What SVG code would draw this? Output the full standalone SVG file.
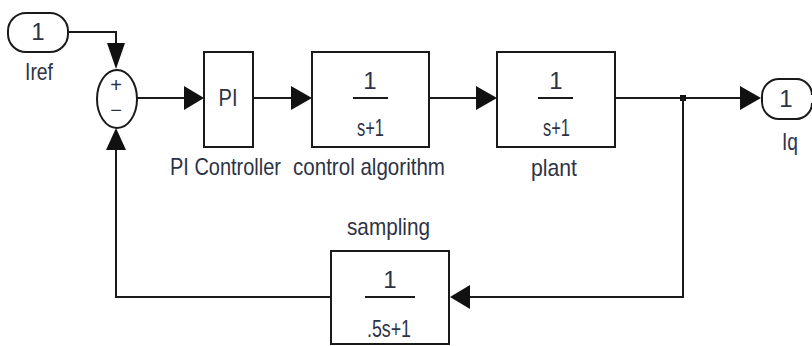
<svg xmlns="http://www.w3.org/2000/svg" width="812" height="346" viewBox="0 0 812 346">
<defs>
<style>
.blk{fill:#fff;stroke:#1a1a1a;stroke-width:2}
.ln{fill:none;stroke:#1a1a1a;stroke-width:2}
.t{font-family:"Liberation Sans",Arial,sans-serif;font-size:24px;fill:#2d3345}
.c{text-anchor:middle}
.ah{fill:#111}
</style>
</defs>
<rect width="812" height="346" fill="#fff"/>
<g id="connectors">
<polyline class="ln" points="68,32 116,32 116,50"/>
<polygon class="ah" points="107,43 125,43 116,69"/>
<line class="ln" x1="137" y1="98" x2="186" y2="98"/>
<polygon class="ah" points="184,86 184,110 204,98"/>
<line class="ln" x1="253" y1="98" x2="292" y2="98"/>
<polygon class="ah" points="291,86 291,110 312,98"/>
<line class="ln" x1="429" y1="98" x2="478" y2="98"/>
<polygon class="ah" points="476,86 476,110 497,98"/>
<line class="ln" x1="615" y1="98" x2="742" y2="98"/>
<polygon class="ah" points="740,86 740,110 761,98"/>
<rect x="680" y="95" width="6" height="6" fill="#111"/>
<polyline class="ln" points="683,98 683,297 468,297"/>
<polygon class="ah" points="470,285 470,309 450,297"/>
<polyline class="ln" points="331,297 116,297 116,148"/>
<polygon class="ah" points="106,150 126,150 116,128"/>
</g>
<g id="Iref">
<rect class="blk" x="8" y="13" width="60" height="39" rx="18"/>
<text class="t c" x="38" y="40">1</text>
<text class="t" x="25" y="80" textLength="28" lengthAdjust="spacingAndGlyphs">Iref</text>
</g>
<g id="sum">
<ellipse class="blk" cx="117" cy="99" rx="20" ry="29"/>
<text class="t c" x="116" y="92" style="font-size:20px">+</text>
<text class="t c" x="116" y="117" style="font-size:20px">−</text>
</g>
<g id="PI">
<rect class="blk" x="204" y="52" width="49" height="95"/>
<text class="t c" x="228" y="106" textLength="19" lengthAdjust="spacingAndGlyphs">PI</text>
<text class="t" x="170" y="175" textLength="111" lengthAdjust="spacingAndGlyphs">PI Controller</text>
</g>
<g id="control">
<rect class="blk" x="312" y="52" width="117" height="95"/>
<text class="t c" x="370" y="89">1</text>
<line class="ln" x1="353" y1="98" x2="388" y2="98"/>
<text class="t" x="357" y="136" textLength="27" lengthAdjust="spacingAndGlyphs">s+1</text>
<text class="t" x="293" y="175" textLength="152" lengthAdjust="spacingAndGlyphs">control algorithm</text>
</g>
<g id="plant">
<rect class="blk" x="497" y="52" width="118" height="95"/>
<text class="t c" x="556" y="89">1</text>
<line class="ln" x1="538" y1="98" x2="573" y2="98"/>
<text class="t" x="543" y="136" textLength="27" lengthAdjust="spacingAndGlyphs">s+1</text>
<text class="t" x="531" y="176" textLength="46" lengthAdjust="spacingAndGlyphs">plant</text>
</g>
<g id="Iq">
<rect class="blk" x="762" y="79" width="50" height="40" rx="17"/>
<rect x="790" y="79" width="30" height="40" fill="#fff"/>
<path class="ln" d="M790,79 H796 A16,16 0 0 1 812,95 M812,103 A16,16 0 0 1 796,119 H790"/>
<text class="t c" x="786" y="107">1</text>
<text class="t" x="782" y="150" textLength="16" lengthAdjust="spacingAndGlyphs">Iq</text>
</g>
<g id="sampling">
<rect class="blk" x="331" y="251" width="118" height="93"/>
<text class="t c" x="390" y="288">1</text>
<line class="ln" x1="365" y1="297" x2="415" y2="297"/>
<text class="t" x="367" y="337" textLength="44" lengthAdjust="spacingAndGlyphs">.5s+1</text>
<text class="t" x="347" y="235" textLength="83" lengthAdjust="spacingAndGlyphs">sampling</text>
</g>
</svg>
